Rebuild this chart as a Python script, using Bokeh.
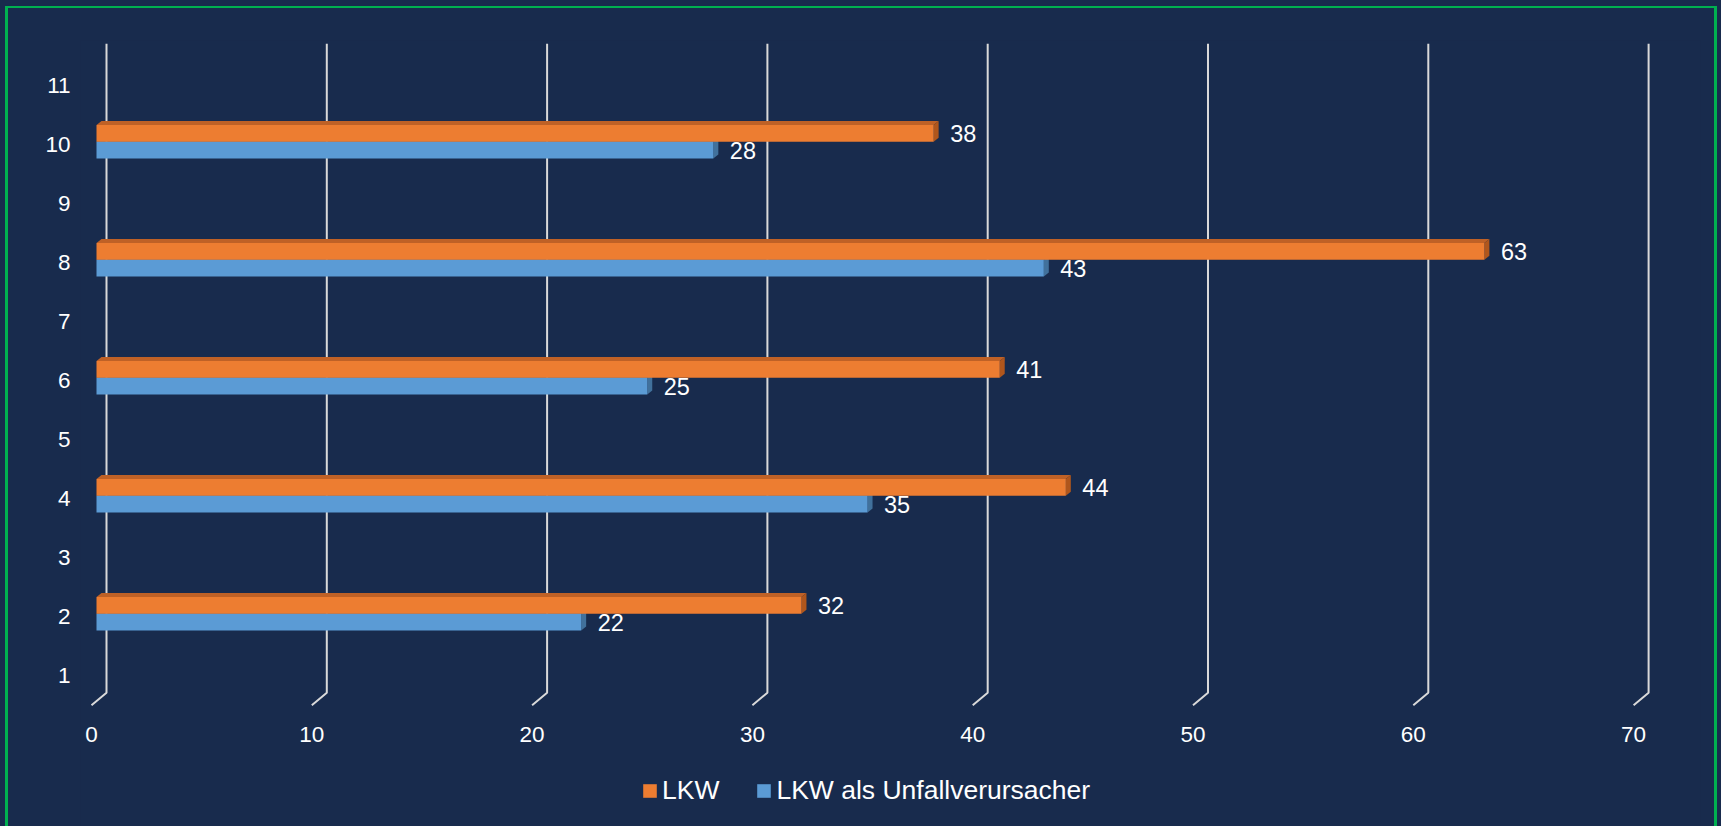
from bokeh.plotting import figure
from bokeh.models import FixedTicker, Legend, LegendItem, GlobalInlineStyleSheet, ColumnDataSource
from bokeh.core.properties import value
from bokeh.embed import file_html
from bokeh.resources import INLINE

# ---------------- data ----------------
categories = [2, 4, 6, 8, 10]
lkw = [32, 44, 41, 63, 38]
lkw_verursacher = [22, 35, 25, 43, 28]
series_names = ["LKW", "LKW als Unfallverursacher"]
y_ticks = [1, 2, 3, 4, 5, 6, 7, 8, 9, 10, 11]
x_ticks = [0, 10, 20, 30, 40, 50, 60, 70]

# ---------------- style ----------------
BG = "#182B4D"
GREEN = "#00B050"
ORANGE, ORANGE_TOP, ORANGE_SIDE = "#ED7D31", "#BF6126", "#B0561C"
BLUE, BLUE_TOP, BLUE_SIDE = "#5B9BD5", "#4A82B8", "#41719C"
GRID = "#D9D9D9"
TXT = "#FFFFFF"
FONT = "Liberation Sans"

W, H = 1721, 826
PX_X = 22.03   # pixels per x unit
PX_Y = 59.0    # pixels per category
X0_PX, C10_PX = 91.0, 144.2      # screen position of x=0 and category 10 (front plane)
FRAME_L, FRAME_R, FRAME_T, FRAME_B = 80, 1700, 40, 826


def ux(px):
    return px / PX_X


def uy(px):
    return px / PX_Y


def ydata(py):
    return 10 - (py - C10_PX) / PX_Y


x_range = ((FRAME_L - X0_PX) / PX_X, (FRAME_R - X0_PX) / PX_X)
y_range = (ydata(FRAME_B), ydata(FRAME_T))

p = figure(width=W, height=H, title=None, x_range=x_range, y_range=y_range,
           x_axis_location="above",
           output_backend="svg", toolbar_location=None,
           min_border_left=FRAME_L, min_border_right=W - FRAME_R,
           min_border_top=FRAME_T, min_border_bottom=H - FRAME_B,
           background_fill_color=BG, border_fill_color=None,
           outline_line_color=None)
p.stylesheets = [GlobalInlineStyleSheet(css="html, body { background-color: #182B4D; }")]
p.styles = {"background-color": BG,
            "box-shadow": f"inset 5px 6px 0 0 {BG}, inset -4px 0 0 0 {BG}, "
                          f"inset 8px 8px 0 0 {GREEN}, inset -7px 0 0 0 {GREEN}"}
p.xgrid.visible = False
p.ygrid.visible = False

# axes
for ax in (p.xaxis[0], p.yaxis[0]):
    ax.axis_line_color = None
    ax.major_tick_line_color = None
    ax.minor_tick_line_color = None
    ax.major_tick_out = 0
    ax.major_tick_in = 0
    ax.minor_tick_out = 0
    ax.major_label_text_color = TXT
    ax.major_label_text_font = FONT
    ax.major_label_text_font_size = "22.5px"
p.xaxis.ticker = FixedTicker(ticks=x_ticks)
p.yaxis.ticker = FixedTicker(ticks=y_ticks)
p.xaxis.fixed_location = ydata(741)
p.xaxis.major_label_standoff = 0
p.yaxis.major_label_standoff = 10

# 3D geometry offsets (screen px converted to data units)
BACK_DX, BACK_DY = ux(15), uy(12.5)
BAR_DX, BAR_DY = ux(5), uy(3)
DEP_DX, DEP_DY = ux(5), uy(4)
BAR_H = uy(16.7)

# back-wall gridlines with floor segment
gxs, gys = [], []
for t in x_ticks:
    gxs.append([t + BACK_DX, t + BACK_DX, t])
    gys.append([y_ticks[-1] + 0.5 + BACK_DY, y_ticks[0] - 0.5 + BACK_DY, y_ticks[0] - 0.5])
p.multi_line(gxs, gys, line_color=GRID, line_width=2)


def draw_series(vals, upper, front, top_c, side_c):
    left, right, bottom, top = [], [], [], []
    txs, tys, sxs, sys_ = [], [], [], []
    for c, v in zip(categories, vals):
        base = c + BAR_DY
        b, t = (base, base + BAR_H) if upper else (base - BAR_H, base)
        l, r = BAR_DX, v + BAR_DX
        left.append(l); right.append(r); bottom.append(b); top.append(t)
        txs.append([l, r, r + DEP_DX, l + DEP_DX])
        tys.append([t, t, t + DEP_DY, t + DEP_DY])
        sxs.append([r, r + DEP_DX, r + DEP_DX, r])
        sys_.append([b, b + DEP_DY, t + DEP_DY, t])
    p.patches(txs, tys, fill_color=top_c, line_color=None)
    p.patches(sxs, sys_, fill_color=side_c, line_color=None)
    src = ColumnDataSource(dict(left=left, right=right, bottom=bottom, top=top))
    rq = p.quad(left="left", right="right", bottom="bottom", top="top", source=src,
                fill_color=front, line_color=None)
    lab = ColumnDataSource(dict(x=[v + BAR_DX + ux(16.5) for v in vals],
                                y=[(b + t) / 2 for b, t in zip(bottom, top)],
                                text=[str(v) for v in vals]))
    p.text(x="x", y="y", text="text", source=lab, text_align="left", text_baseline="middle",
           text_color=TXT, text_font=value(FONT), text_font_size="23.5px")
    return rq


r_blue = draw_series(lkw_verursacher, False, BLUE, BLUE_TOP, BLUE_SIDE)
r_orange = draw_series(lkw, True, ORANGE, ORANGE_TOP, ORANGE_SIDE)

legend = Legend(items=[LegendItem(label=series_names[0], renderers=[r_orange]),
                       LegendItem(label=series_names[1], renderers=[r_blue])],
                orientation="horizontal", location=(641 - FRAME_L, FRAME_B - 776 - 30),
                glyph_width=17, glyph_height=17, label_standoff=4, spacing=36,
                label_height=30, padding=0, margin=0, border_line_color=None,
                background_fill_alpha=0,
                label_text_font_size="26.5px", label_text_color=TXT, label_text_font=FONT)
p.add_layout(legend)

open("out.html", "w").write(file_html(p, INLINE))
